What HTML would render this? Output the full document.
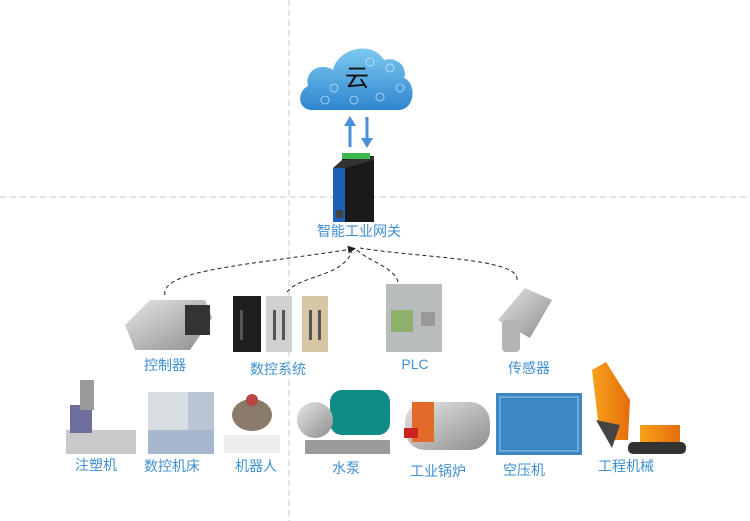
<!DOCTYPE html>
<html><head><meta charset="utf-8"><style>
html,body{margin:0;padding:0;background:#fff}
svg{display:block}
text{font-family:"Liberation Sans","Noto Sans CJK SC",sans-serif}
.lb{fill:#3f8fd2;font-size:14px;text-anchor:middle}
</style></head><body>
<svg width="750" height="521" viewBox="0 0 750 521" xmlns="http://www.w3.org/2000/svg">
<defs>
<linearGradient id="cl" x1="0" y1="0" x2="0" y2="1"><stop offset="0" stop-color="#7cc8f0"/><stop offset="1" stop-color="#2f86cf"/></linearGradient>
<linearGradient id="sv" x1="0" y1="0" x2="1" y2="1"><stop offset="0" stop-color="#e6e6e6"/><stop offset="1" stop-color="#8d8d8d"/></linearGradient>
<linearGradient id="org" x1="0" y1="0" x2="1" y2="0"><stop offset="0" stop-color="#f7a21b"/><stop offset="1" stop-color="#e46d0a"/></linearGradient>
<marker id="ah" markerWidth="8" markerHeight="8" refX="4" refY="4" orient="auto"><path d="M0,0 L8,4 L0,8 z" fill="#222"/></marker>
</defs>
<line x1="289" y1="0" x2="289" y2="521" stroke="#c8c8c8" stroke-dasharray="6,4"/>
<line x1="0" y1="197" x2="750" y2="197" stroke="#c8c8c8" stroke-dasharray="6,4"/>
<!-- cloud -->
<path d="M312,110 C298,110 296,92 308,86 C304,70 322,62 333,70 C338,48 372,40 384,60 C398,56 408,68 404,78 C416,82 416,108 400,110 Z" fill="url(#cl)"/>
<g fill="none" stroke="#d8efff" stroke-width="0.8" opacity="0.8">
<circle cx="334" cy="88" r="4"/><circle cx="354" cy="100" r="4"/><circle cx="380" cy="97" r="4"/><circle cx="370" cy="62" r="4"/><circle cx="390" cy="68" r="4"/><circle cx="400" cy="88" r="4"/><circle cx="325" cy="100" r="4"/>
</g>
<text x="357" y="86" font-size="24" text-anchor="middle" fill="#111">云</text>
<!-- arrows -->
<line x1="350" y1="147" x2="350" y2="124" stroke="#4a90d9" stroke-width="3"/><path d="M344,126 L350,116 L356,126 Z" fill="#4a90d9"/>
<line x1="367" y1="117" x2="367" y2="140" stroke="#4a90d9" stroke-width="3"/><path d="M361,138 L367,148 L373,138 Z" fill="#4a90d9"/>
<!-- gateway -->
<rect x="342" y="156" width="32" height="66" fill="#1a1a1a"/>
<rect x="333" y="168" width="12" height="54" fill="#1e5fb8"/>
<polygon points="333,168 342,160 374,156 374,160 345,168" fill="#333"/>
<rect x="342" y="153" width="28" height="6" fill="#3dbb4a"/>
<rect x="336" y="210" width="7" height="8" fill="#444"/>
<text x="359" y="236" font-size="14" text-anchor="middle" fill="#3f8fd2">智能工业网关</text>
<!-- dashed curves -->
<g fill="none" stroke="#222" stroke-dasharray="4,3" stroke-width="1">
<path d="M165,295 C160,270 250,265 352,249" marker-end="url(#ah)"/>
<path d="M287,292 C300,275 340,278 352,252"/>
<path d="M398,282 C395,268 370,262 357,250"/>
<path d="M517,280 C520,258 420,258 360,248"/>
</g>
<!-- controller -->
<polygon points="125,325 150,300 205,300 212,318 190,350 135,350" fill="url(#sv)"/>
<rect x="185" y="305" width="25" height="30" fill="#333"/>
<text class="lb" x="165" y="370">控制器</text>
<!-- CNC system -->
<rect x="233" y="296" width="28" height="56" fill="#1e1e1e"/>
<rect x="266" y="296" width="26" height="56" fill="#d0d0d0"/>
<rect x="302" y="296" width="26" height="56" fill="#d8c7a4"/>
<g fill="#555"><rect x="240" y="310" width="3" height="30"/><rect x="273" y="310" width="3" height="30"/><rect x="282" y="310" width="3" height="30"/><rect x="309" y="310" width="3" height="30"/><rect x="318" y="310" width="3" height="30"/></g>
<text class="lb" x="278" y="374">数控系统</text>
<!-- PLC -->
<rect x="386" y="284" width="56" height="68" fill="#b8bcbc"/>
<rect x="391" y="310" width="22" height="22" fill="#8fb06a"/>
<rect x="421" y="312" width="14" height="14" fill="#999"/>
<text class="lb" x="415" y="369">PLC</text>
<!-- sensor -->
<polygon points="498,320 525,288 552,300 530,338" fill="url(#sv)"/>
<rect x="502" y="320" width="18" height="32" rx="4" fill="#b5b5b5"/>
<text class="lb" x="529" y="373">传感器</text>
<!-- bottom row -->
<rect x="66" y="430" width="70" height="24" fill="#c9c9c9"/>
<rect x="70" y="405" width="22" height="28" fill="#6b6f9a"/>
<rect x="80" y="380" width="14" height="30" fill="#9a9a9a"/>
<text class="lb" x="96" y="470">注塑机</text>
<rect x="148" y="392" width="40" height="62" fill="#d8dde2"/>
<rect x="188" y="392" width="26" height="62" fill="#b9c5d3"/>
<rect x="148" y="430" width="66" height="24" fill="#a8b8cc"/>
<text class="lb" x="172" y="471">数控机床</text>
<rect x="224" y="435" width="56" height="18" fill="#eee"/>
<ellipse cx="252" cy="415" rx="20" ry="16" fill="#8a7a6a"/>
<circle cx="252" cy="400" r="6" fill="#b44"/>
<text class="lb" x="256" y="471">机器人</text>
<rect x="330" y="390" width="60" height="45" rx="12" fill="#0f8c86"/>
<circle cx="315" cy="420" r="18" fill="url(#sv)"/>
<rect x="305" y="440" width="85" height="14" fill="#9a9a9a"/>
<text class="lb" x="346" y="473">水泵</text>
<rect x="405" y="402" width="85" height="48" rx="20" fill="url(#sv)"/>
<rect x="412" y="402" width="22" height="40" fill="#e46a2a"/>
<rect x="404" y="428" width="14" height="10" fill="#c22"/>
<text class="lb" x="438" y="476">工业锅炉</text>
<rect x="496" y="393" width="86" height="62" fill="#3b88c4"/>
<rect x="500" y="397" width="78" height="54" fill="none" stroke="#9cc7e6"/>
<text class="lb" x="524" y="475">空压机</text>
<path d="M592,370 L606,362 L630,400 L628,440 L610,440 L598,420 Z" fill="url(#org)"/>
<rect x="640" y="425" width="40" height="18" fill="url(#org)"/>
<rect x="628" y="442" width="58" height="12" rx="5" fill="#333"/>
<path d="M596,420 L620,425 L612,448 Z" fill="#444"/>
<text class="lb" x="626" y="471">工程机械</text>
</svg>
</body></html>
